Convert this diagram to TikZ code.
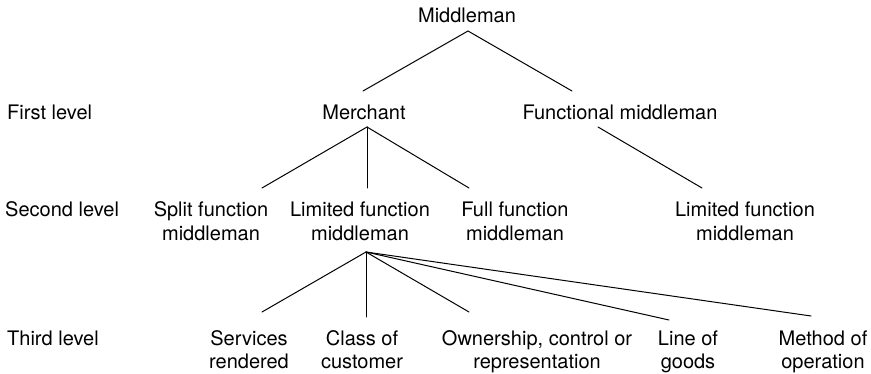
\documentclass[tikz,border=0pt]{standalone}
\usepackage{fontspec}
\setmainfont{TeX Gyre Heros}
\begin{document}
\begin{tikzpicture}[x=1pt,y=-1pt,
  lbl/.style={inner sep=0pt,anchor=base,align=center,font=\fontsize{20}{24}\selectfont},
  lvl/.style={inner sep=0pt,anchor=base west,font=\fontsize{20}{24}\selectfont},
  branch/.style={line width=1pt,line cap=round}]
\useasboundingbox (0,0) rectangle (871,374);

% level captions
\node[lvl] (l1) at (7,120) {First level};
\node[lvl] (l2) at (5,217) {Second level};
\node[lvl] (l3) at (7,345) {Third level};

% tree labels (two-line labels are placed by the baseline of their last line)
\node[lbl] (mid) at (467,23) {Middleman};
\node[lbl] (mer) at (364,120) {Merchant};
\node[lbl] (fun) at (620,120) {Functional middleman};
\node[lbl] (spl) at (211,241) {Split function\\middleman};
\node[lbl] (lim) at (360,241) {Limited function\\middleman};
\node[lbl] (ful) at (515,241) {Full function\\middleman};
\node[lbl] (flim) at (745,241) {Limited function\\middleman};
\node[lbl] (ser) at (249,369) {Services\\rendered};
\node[lbl] (cla) at (362,369) {Class of\\customer};
\node[lbl] (own) at (537,369) {Ownership, control or\\representation};
\node[lbl] (lin) at (688,369) {Line of\\goods};
\node[lbl] (met) at (823,369) {Method of\\operation};

% branch ends
\coordinate (mid-b) at (468,31);
\coordinate (mer-t) at (363,91);
\coordinate (fun-t) at (572,91);
\coordinate (mer-b) at (367,127);
\coordinate (fun-b) at (598,127);
\coordinate (spl-t) at (262,188);
\coordinate (lim-t) at (367,188);
\coordinate (ful-t) at (469,188);
\coordinate (flim-t) at (702,188);
\coordinate (lim-b) at (366,252);
\coordinate (ser-t) at (262,312);
\coordinate (cla-t) at (366,317);
\coordinate (own-t) at (469,312);
\coordinate (lin-t) at (669,320);
\coordinate (met-t) at (811,316);

\draw[branch] (mer-t) -- (mid-b) -- (fun-t);
\draw[branch] (spl-t) -- (mer-b) -- (ful-t);
\draw[branch] (mer-b) -- (lim-t);
\draw[branch] (fun-b) -- (flim-t);
\draw[branch] (lim-b) -- (ser-t);
\draw[branch] (lim-b) -- (cla-t);
\draw[branch] (lim-b) -- (own-t);
\draw[branch] (lim-b) -- (lin-t);
\draw[branch] (lim-b) -- (met-t);
\end{tikzpicture}
\end{document}
